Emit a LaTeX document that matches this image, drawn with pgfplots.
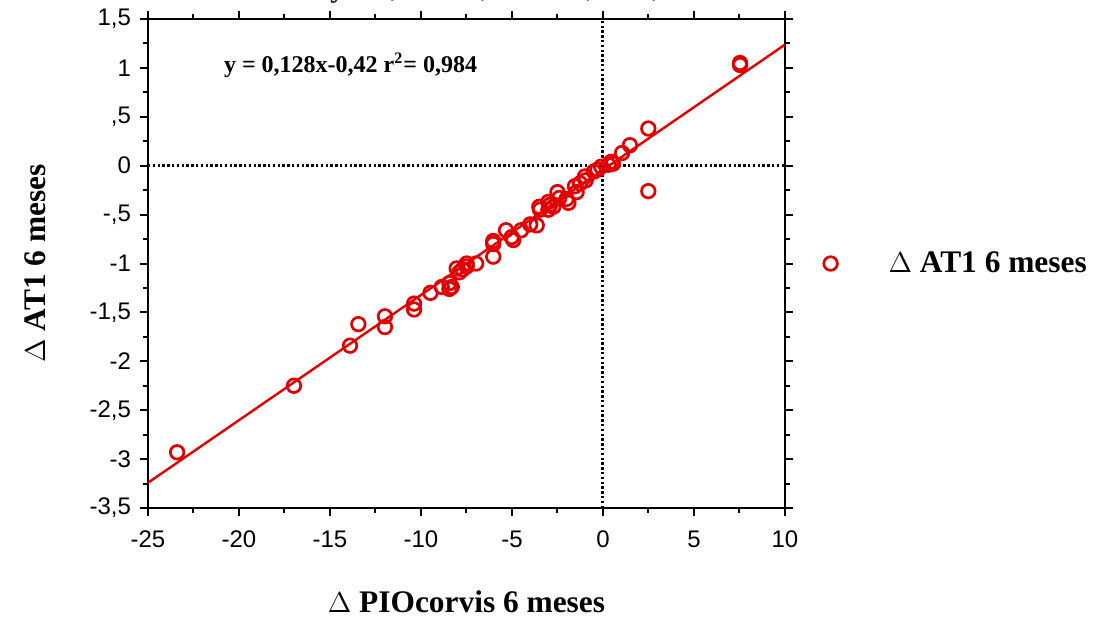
\documentclass[border=0pt]{standalone}
\usepackage{pgfplots}
\pgfplotsset{compat=1.18}
\usepackage{fontspec}
\setmainfont{Liberation Serif}
\newfontfamily\sansf{Liberation Sans}
\definecolor{ptred}{RGB}{226,0,0}
\begin{document}
\begin{tikzpicture}
\begin{axis}[
  at={(0,0)}, anchor=south west,
  scale only axis, width=318.5pt, height=244.5pt,
  xmin=-25, xmax=10, ymin=-3.5, ymax=1.5,
  xtick={-25,-20,...,10},
  xticklabels={-25,-20,-15,-10,-5,0,5,10},
  ytick={-3.5,-3,-2.5,-2,-1.5,-1,-0.5,0,0.5,1,1.5},
  yticklabels={{-3,5},{-3},{-2,5},{-2},{-1,5},{-1},{-,5},{0},{,5},{1},{1,5}},
  minor x tick num=1, minor y tick num=1,
  tick align=outside,
  major tick length=4pt, minor tick length=2.5pt,
  axis line style={line width=1pt},
  every tick/.style={black, line width=1pt},
  tick label style={font=\sansf\fontsize{12}{14}\selectfont},
  xticklabel style={yshift=-4pt},
  yticklabel style={xshift=-1pt},
  xlabel={\textbf{$\Delta$ PIOcorvis 6 meses}},
  ylabel={\textbf{$\Delta$ AT1 6 meses}},
  label style={font=\fontsize{15.7}{18}\selectfont\bfseries},
  xlabel style={at={([yshift=-47pt]axis description cs:0.5,0)}, anchor=center},
  ylabel style={at={([xshift=-56.5pt]axis description cs:0,0.5)}, anchor=center},
  legend style={at={(axis description cs:1,0.5)}, anchor=west, xshift=19.4pt,
    draw=none, fill=none, inner sep=0pt, outer sep=0pt,
    nodes={inner sep=0pt}, font=\fontsize{15.7}{18}\selectfont\bfseries},
  legend image code/.code={\path[draw=none,fill=none] (0pt,0pt) -- (29pt,0pt);
    \draw[#1,mark repeat=1] plot coordinates {(0pt,0pt)};},
  clip=false,
]
\addplot[black, dash pattern=on 1.2pt off 1.2pt, line width=1.5pt, forget plot] coordinates {(0,-3.5) (0,1.5)};
\addplot[black, dash pattern=on 1.2pt off 1.2pt, line width=1.5pt, forget plot] coordinates {(-25,0) (10,0)};
\addplot[ptred, line width=1.2pt, forget plot] coordinates {(-25,-3.242) (10,1.238)};
\addplot[only marks, mark=o, mark size=3.4pt, ptred, mark options={line width=1.35pt}] coordinates {
(-23.4,-2.93) (-16.98,-2.25) (-13.9,-1.84) (-13.44,-1.62) (-11.98,-1.54) (-11.98,-1.65)
(-10.38,-1.41) (-10.38,-1.47) (-9.48,-1.30) (-8.86,-1.24) (-8.44,-1.20) (-8.44,-1.26)
(-8.31,-1.24) (-8.04,-1.05) (-7.89,-1.09) (-7.71,-1.06) (-7.49,-1.00) (-7.49,-1.03) (-6.97,-1.00)
(-6.03,-0.77) (-6.03,-0.80) (-6.03,-0.93) (-5.33,-0.66) (-5.02,-0.73) (-4.93,-0.76)
(-4.5,-0.66) (-4.0,-0.60) (-3.64,-0.61) (-3.5,-0.42) (-3.46,-0.45) (-3.0,-0.37)
(-2.91,-0.40) (-3.0,-0.45) (-2.73,-0.42) (-2.5,-0.27) (-2.4,-0.33) (-2.0,-0.34)
(-1.9,-0.38) (-1.54,-0.21) (-1.45,-0.27) (-1.26,-0.18) (-0.99,-0.11) (-0.95,-0.15)
(-0.5,-0.06) (-0.3,-0.04) (-0.1,-0.01) (0.3,0.01) (0.45,0.04) (0.55,0.02)
(1.05,0.13) (1.48,0.21) (2.49,0.38) (2.49,-0.26) (7.53,1.05) (7.53,1.03)
};
\addlegendentry{$\Delta$ AT1 6 meses}
\node[anchor=center, font=\fontsize{12}{14}\selectfont\bfseries] at (axis description cs:0.318,0.905) {y = 0,128x-0,42 r\textsuperscript{2}= 0,984};
\node[anchor=base west, font=\fontsize{16}{18}\selectfont\bfseries, text=black!85] at ([yshift=11.5pt]axis description cs:0.275,1) {y = -,042 + ,128 * x; r = ,984};
\end{axis}
\pgfresetboundingbox
\path (-74pt,-55pt) rectangle (475pt,254pt);
\end{tikzpicture}
\end{document}
